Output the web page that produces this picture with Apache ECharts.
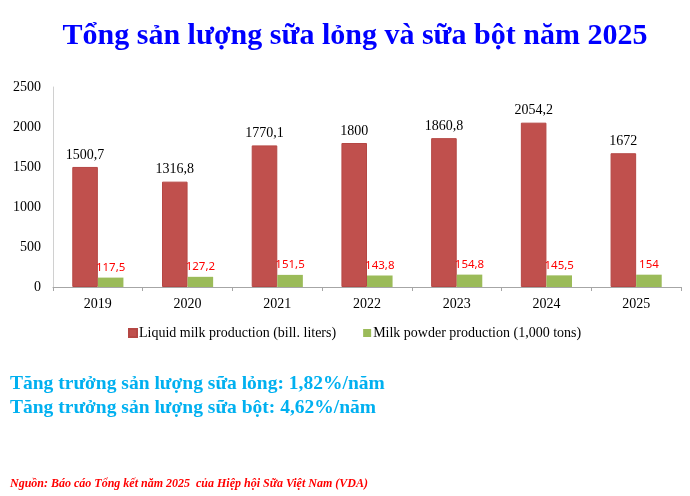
<!DOCTYPE html>
<html>
<head>
<meta charset="utf-8">
<script src="https://cdn.jsdelivr.net/npm/echarts@6/dist/echarts.min.js"></script>
<style>
  html, body { margin: 0; padding: 0; background: #fff; }
  #main { width: 690px; height: 496px; }
</style>
</head>
<body>
<div id="main"></div>
<script>
var years = ['2019', '2020', '2021', '2022', '2023', '2024', '2025'];
var liquidMilk = [1500.7, 1316.8, 1770.1, 1800, 1860.8, 2054.2, 1672];
var milkPowder = [117.5, 127.2, 151.5, 143.8, 154.8, 145.5, 154];
var seriesNames = ['Liquid milk production (bill. liters)', 'Milk powder production (1,000 tons)'];
var growthLines = ['Tăng trưởng sản lượng sữa lỏng: 1,82%/năm', 'Tăng trưởng sản lượng sữa bột: 4,62%/năm'];
var sourceText = 'Nguồn: Báo cáo Tổng kết năm 2025  của Hiệp hội Sữa Việt Nam (VDA)';

var serif = '"Liberation Serif", "Times New Roman", serif';

// dấu phẩy thập phân kiểu Việt Nam
function vn(v) {
    return String(v).replace('.', ',');
}

var chart = echarts.init(document.getElementById('main'));
var option = {
    animation: false,
    title: {
        text: 'Tổng sản lượng sữa lỏng và sữa bột năm 2025',
        left: 350,
        textAlign: 'center',
        top: 16,
        textStyle: {
            fontFamily: serif,
            fontWeight: 'bold',
            fontSize: 30,
            color: '#0000FF',
            textShadowColor: '#000066',
            textShadowOffsetX: 2,
            textShadowOffsetY: 2,
            textShadowBlur: 0
        }
    },
    legend: {
        left: 123,
        top: 321,
        itemWidth: 8,
        itemHeight: 8,
        itemGap: 27,
        icon: 'rect',
        textStyle: { fontFamily: serif, fontSize: 14, color: '#000', padding: [0, 0, 0, -3] },
        data: seriesNames
    },
    grid: {
        left: 53,
        right: 9,
        top: 87,
        bottom: 209
    },
    xAxis: {
        type: 'category',
        data: years,
        axisLine: { lineStyle: { color: '#A6A6A6' } },
        axisTick: { show: true, length: 4, lineStyle: { color: '#A6A6A6' } },
        axisLabel: { fontFamily: serif, fontSize: 14, color: '#000', margin: 10 }
    },
    yAxis: {
        type: 'value',
        min: 0,
        max: 2500,
        interval: 500,
        axisLine: { show: true, lineStyle: { color: '#D0D0D0' } },
        axisTick: { show: false },
        splitLine: { show: false },
        axisLabel: {
            fontFamily: serif,
            fontSize: 14,
            color: '#000',
            margin: 12,
            formatter: function (v) { return String(v); }
        }
    },
    series: [
        {
            name: seriesNames[0],
            type: 'bar',
            data: liquidMilk,
            barWidth: '28.5%',
            barGap: '0%',
            itemStyle: { color: '#C0504D', borderColor: '#B54744', borderWidth: 1 },
            label: {
                show: true,
                position: 'top',
                distance: 5,
                fontFamily: serif,
                fontSize: 14,
                color: '#000',
                formatter: function (p) { return vn(p.value); }
            }
        },
        {
            name: seriesNames[1],
            type: 'bar',
            data: milkPowder,
            barWidth: '28.5%',
            itemStyle: { color: '#9BBB59' },
            label: {
                show: true,
                position: 'top',
                distance: 4,
                fontFamily: '"Noto Sans", "Open Sans", sans-serif',
                fontSize: 11.5,
                color: '#FF0000',
                formatter: function (p) { return vn(p.value); }
            }
        }
    ],
    graphic: [
        {
            type: 'text',
            left: 10,
            top: 374,
            style: {
                text: growthLines[0],
                fill: '#00B0F0',
                font: 'bold 19.5px ' + serif
            }
        },
        {
            type: 'text',
            left: 10,
            top: 398,
            style: {
                text: growthLines[1],
                fill: '#00B0F0',
                font: 'bold 19.5px ' + serif
            }
        },
        {
            type: 'text',
            left: 10,
            top: 478,
            style: {
                text: sourceText,
                fill: '#FF0000',
                font: 'italic bold 12px ' + serif
            }
        }
    ]
};
chart.setOption(option);
</script>
</body>
</html>
